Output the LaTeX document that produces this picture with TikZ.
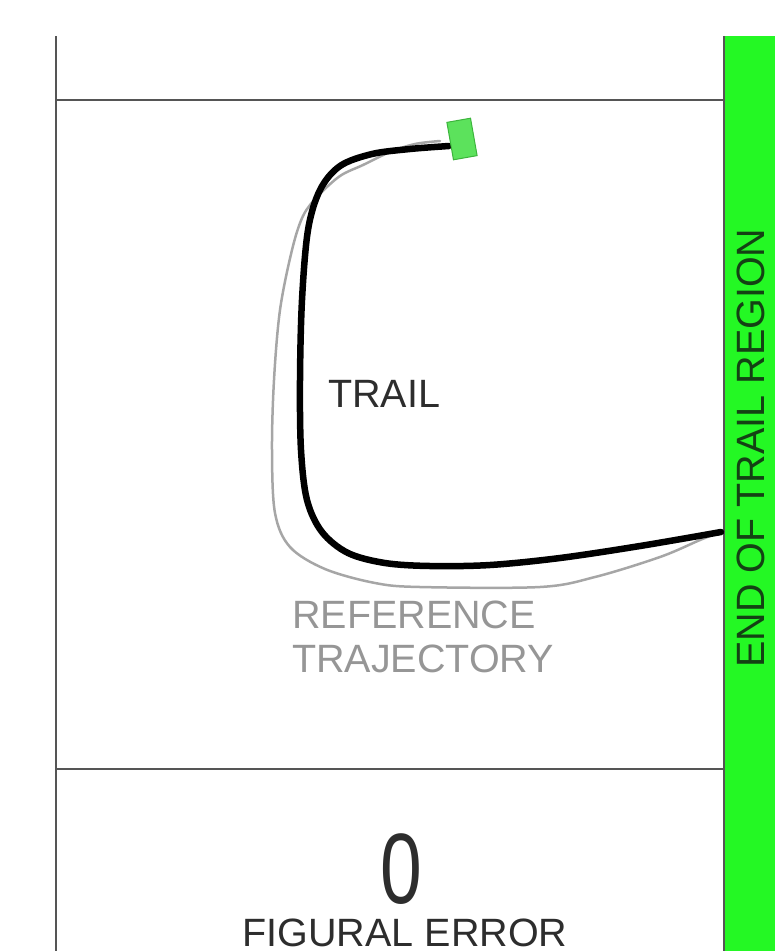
\documentclass[tikz,border=0pt]{standalone}
\usepackage{fontspec}
\setmainfont{Liberation Sans}
\definecolor{barGreen}{RGB}{36,248,36}
\definecolor{penGreen}{RGB}{92,226,92}
\definecolor{penEdge}{RGB}{60,180,60}
\definecolor{frameGray}{RGB}{85,85,85}
\definecolor{refGray}{RGB}{166,166,166}
\definecolor{refText}{RGB}{150,150,150}
\definecolor{darkText}{RGB}{45,45,45}
\definecolor{barText}{RGB}{20,65,20}
\tikzset{
  frameline/.style={draw=frameGray, line width=2.5pt},
  trailpath/.style={draw=black, line width=6.5pt, line cap=round, line join=round},
  refpath/.style={draw=refGray, line width=2.5pt, line cap=round, line join=round},
  lbl/.style={inner sep=0pt, font=\fontsize{39.5}{44}\selectfont},
}
\begin{document}
\begin{tikzpicture}[x=1pt, y=-1pt]
\useasboundingbox (0,0) rectangle (775,951);
% green end region bar
\fill[barGreen] (724,36) rectangle (775,951);
% frame lines
\draw[frameline] (56,36) -- (56,951);
\draw[frameline] (56,100) -- (724,100);
\draw[frameline] (56,769) -- (724,769);
\draw[frameline] (724,36) -- (724,951);
\node[lbl, text=barText, rotate=90] (endlbl) at (751,448) {END OF TRAIL REGION};
% reference trajectory (gray)
\draw[refpath] plot[smooth, tension=0.55] coordinates {
 (440,141) (415,144) (390,152) (363,165) (340,176) (318,196) (303,216)
 (292,250) (280,310) (274,380) (272,450) (275,513) (290,547) (325,569)
 (375,583) (420,587) (540,587) (595,577) (660,557) (700,540) (718,533)};
% trail (black)
\draw[trailpath] plot[smooth, tension=0.55] coordinates {
 (449,146) (410,149) (372,154) (340,166) (320,190) (308,230) (302,300)
 (300,380) (301,450) (307,500) (322,532) (348,553) (385,563) (430,566)
 (490,565) (560,558) (640,546) (721,532)};
% pen
\node[draw=penEdge, line width=1pt, fill=penGreen, minimum width=24pt, minimum height=38pt, inner sep=0pt, rotate=10] (pen) at (462,139) {};
% labels
\node[lbl, text=darkText, anchor=base west] (trail) at (328,407) {TRAIL};
\node[lbl, text=refText, anchor=base west] (ref1) at (292,628) {REFERENCE};
\node[lbl, text=refText, anchor=base west] (ref2) at (292,672) {TRAJECTORY};
\node[inner sep=0pt, anchor=base, text=darkText, font=\fontsize{100}{100}\selectfont, xscale=0.75] (zero) at (401,903) {0};
\node[lbl, text=darkText, anchor=base] (fig) at (405,946) {FIGURAL ERROR};
\end{tikzpicture}
\end{document}
